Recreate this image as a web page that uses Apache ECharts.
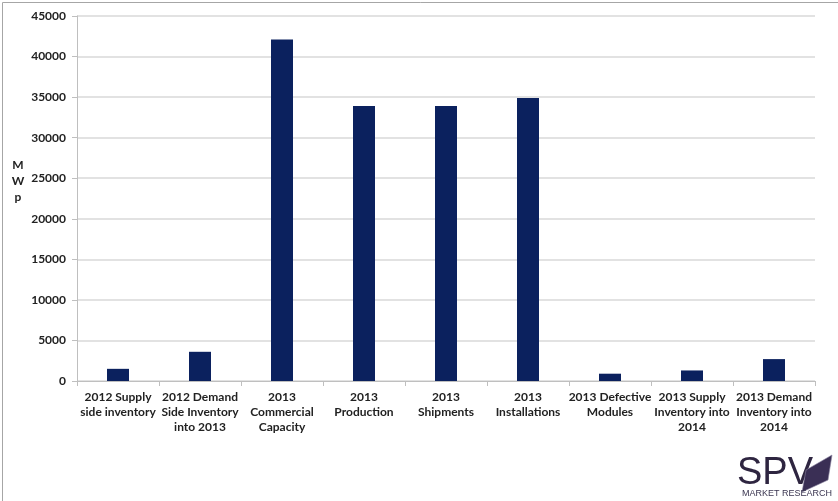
<!DOCTYPE html>
<html><head><meta charset="utf-8">
<script src="https://cdn.jsdelivr.net/npm/echarts@6/dist/echarts.min.js"></script>
<style>html,body{margin:0;padding:0;background:#fff}#c{width:838px;height:501px}</style>
</head><body><div id="c"></div>
<script>
const categories = [
  "2012 Supply\nside inventory",
  "2012 Demand\nSide Inventory\ninto 2013",
  "2013\nCommercial\nCapacity",
  "2013\nProduction",
  "2013\nShipments",
  "2013\nInstallations",
  "2013 Defective\nModules",
  "2013 Supply\nInventory into\n2014",
  "2013 Demand\nInventory into\n2014"
];
const values = [1500, 3600, 42100, 33900, 33900, 34900, 900, 1300, 2700];
const yTicks = { min: 0, max: 45000, interval: 5000 };
const yName = "M\nW\np";

const chart = echarts.init(document.getElementById('c'), null, {renderer: 'canvas'});
const font = 'Lato, "Open Sans", sans-serif';
chart.setOption({
  animation: false,
  grid: { left: 77, right: 23, top: 16, bottom: 120, containLabel: false },
  xAxis: {
    type: 'category', data: categories,
    axisLine: { lineStyle: { color: '#bfbfbf', width: 1 } },
    axisTick: { show: true, length: 5, lineStyle: { color: '#bfbfbf' } },
    axisLabel: { interval: 0, color: '#222', fontFamily: font, fontWeight: 'bold', fontSize: 12, lineHeight: 15, margin: 9 }
  },
  yAxis: {
    type: 'value', min: yTicks.min, max: yTicks.max, interval: yTicks.interval,
    axisLine: { show: true, lineStyle: { color: '#bfbfbf' } },
    axisTick: { show: true, length: 5, lineStyle: { color: '#bfbfbf' } },
    splitLine: { lineStyle: { color: '#d9d9d9', width: 1.5 } },
    axisLabel: { color: '#222', fontFamily: font, fontWeight: 'bold', fontSize: 12, margin: 11, formatter: v => String(v) }
  },
  series: [{
    type: 'bar', data: values, barWidth: 22,
    itemStyle: { color: '#0b215e' }
  }],
  graphic: [
    { type: 'rect', left: 0, top: 0, shape: { width: 837, height: 500 }, style: { fill: 'none', stroke: '#a6a6a6', lineWidth: 1 }, silent: true },
    { type: 'text', x: 18, y: 157, style: { text: yName, fill: '#222', font: 'bold 12px ' + font, lineHeight: 16, textAlign: 'center' } },
    { type: 'text', left: 737, top: 455, style: { text: 'SPV', fill: '#2e2540', font: '38px "Liberation Sans", sans-serif' } },
    { type: 'polygon', shape: { points: [[806,470],[832,455],[828,480],[802,492]] }, style: { fill: '#3a2f55', stroke: '#8a83a0', lineWidth: 0.6 } },
    { type: 'text', left: 742, top: 489, style: { text: 'MARKET RESEARCH', fill: '#3a3550', font: '9px "Liberation Sans", sans-serif' } }
  ]
});
</script></body></html>
